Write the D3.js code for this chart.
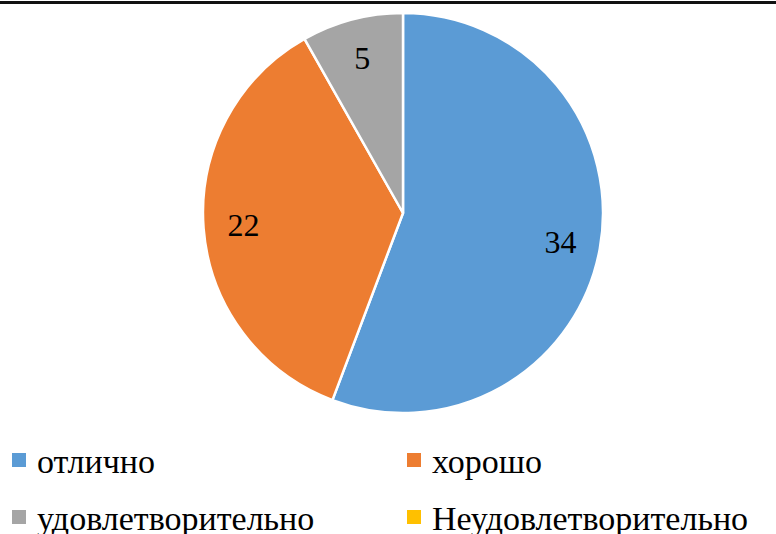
<!DOCTYPE html>
<html>
<head>
<meta charset="utf-8">
<script src="https://cdn.jsdelivr.net/npm/d3@7"></script>
</head>
<body style="margin:0">
<div id="pie-chart"></div>
<script>
var categories = ["отлично", "хорошо", "удовлетворительно", "Неудовлетворительно"];
var values = [34, 22, 5, 0];
var colors = ["#5B9BD5", "#ED7D31", "#A5A5A5", "#FFC000"];

var FONT = "'Liberation Serif', 'Times New Roman', serif";

function createPieChart() {
  var width = 776, height = 534;
  var radius = 200, cx = 403, cy = 213;

  d3.select("#pie-chart").selectAll("*").remove();

  var svg = d3.select("#pie-chart").append("svg")
    .attr("width", width)
    .attr("height", height);

  // frame line on top
  svg.append("line")
    .attr("x1", 0).attr("x2", width)
    .attr("y1", 2.5).attr("y2", 2.5)
    .attr("stroke", "#111")
    .attr("stroke-width", 3);

  var data = categories.map(function (c, i) { return { name: c, value: values[i], color: colors[i] }; });

  var pie = d3.pie()
    .sort(null)
    .value(function (d) { return d.value; });

  var arc = d3.arc().innerRadius(0).outerRadius(radius);
  var labelArc = d3.arc().innerRadius(radius * 0.8).outerRadius(radius * 0.8);

  var g = svg.append("g")
    .attr("transform", "translate(" + cx + "," + cy + ")");

  var slices = pie(data).filter(function (d) { return d.value > 0; });

  g.selectAll("path")
    .data(slices)
    .enter().append("path")
    .attr("d", arc)
    .attr("fill", function (d) { return d.data.color; })
    .attr("stroke", "#fff")
    .attr("stroke-width", 2.5)
    .attr("stroke-linejoin", "round");

  svg.selectAll("text.value")
    .data(slices)
    .enter().append("text")
    .attr("class", "value")
    .attr("x", function (d) { return cx + labelArc.centroid(d)[0]; })
    .attr("y", function (d) { return cy + labelArc.centroid(d)[1] + 11; })
    .attr("text-anchor", "middle")
    .style("font-family", FONT)
    .style("font-size", "32px")
    .text(function (d) { return d.data.value; });

  // legend, two columns
  var pos = function (i) {
    return { x: i % 2 === 0 ? 12 : 407, y: 453 + Math.floor(i / 2) * 57 };
  };

  svg.selectAll("rect.key")
    .data(data)
    .enter().append("rect")
    .attr("class", "key")
    .attr("x", function (d, i) { return pos(i).x; })
    .attr("y", function (d, i) { return pos(i).y; })
    .attr("width", 14).attr("height", 14)
    .attr("fill", function (d) { return d.color; });

  svg.selectAll("text.key")
    .data(data)
    .enter().append("text")
    .attr("class", "key")
    .attr("x", function (d, i) { return pos(i).x + 25; })
    .attr("y", function (d, i) { return pos(i).y + 20; })
    .style("font-family", FONT)
    .style("font-size", "34px")
    .text(function (d) { return d.name; });
}

createPieChart();

// redraw once the serif face is ready, in case it loads late
if (document.fonts && document.fonts.load) {
  document.fonts.load("34px 'Liberation Serif'", "отлично 34").then(createPieChart, function () {});
}
</script>
</body>
</html>
